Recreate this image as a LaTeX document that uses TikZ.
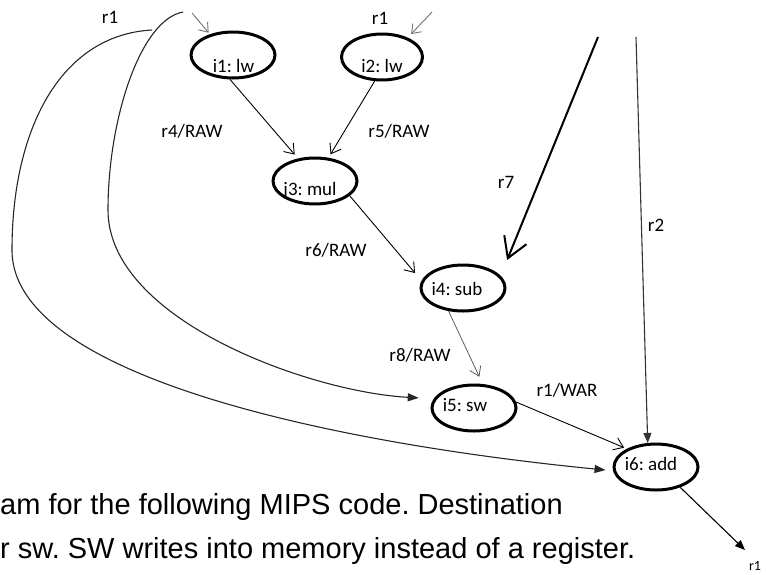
\documentclass[tikz,border=0pt]{standalone}
\usepackage{fontspec}
\newfontfamily\lblfont{Carlito}
\newfontfamily\captfont{Liberation Sans}
\usetikzlibrary{arrows.meta,shapes.geometric}
\frenchspacing

\begin{document}
\begin{tikzpicture}[x=1pt,y=-1pt,
  op/.style={draw, ellipse, line width=3pt, minimum width=84pt, minimum height=46pt, inner sep=0pt},
  opname/.style={font=\lblfont\fontsize{19}{19}\selectfont, anchor=base, inner sep=0pt},
  reglbl/.style={font=\lblfont\fontsize{19}{19}\selectfont, inner sep=0pt},
  dep/.style={line width=0.9pt, -{Straight Barb[length=9pt,width=13pt,line width=0.9pt]}},
  lightdep/.style={line width=0.7pt, black!70, -{Straight Barb[length=9pt,width=12pt,line width=0.7pt]}},
  grayin/.style={line width=0.9pt, black!55, -{Straight Barb[length=8pt,width=12pt,line width=0.9pt]}},
  bigdep/.style={line width=2pt, -{Straight Barb[length=20pt,width=24pt,line width=2pt]}},
  solidin/.style={line width=1.1pt, black!80, -{Triangle[length=10pt,width=8pt]}},
  curved/.style={line width=1.1pt, black!85, -{Triangle[length=11pt,width=8pt]}}
]
\useasboundingbox (0,0) rectangle (766,574);

% operation nodes
\node[op] (i1) at (233,55) {};
\node[op, minimum width=81pt] (i2) at (382,57) {};
\node[op] (j3) at (315,181) {};
\node[op] (i4) at (463,288) {};
\node[op] (i5) at (474,408) {};
\node[op] (i6) at (656,467) {};

\node[opname] (t1) at (233.5,72) {i1: lw};
\node[opname] (t2) at (382,72.5) {i2: lw};
\node[opname] (t3) at (310,195) {j3: mul};
\node[opname] (t4) at (457,295) {i4: sub};
\node[opname] (t5) at (465,411.5) {i5: sw};
\node[opname] (t6) at (651,470) {i6: add};

% free ends of incoming / outgoing registers
\coordinate (inA) at (183,12);
\coordinate (inB) at (152,30);
\coordinate (in1) at (192,13);
\coordinate (in2) at (432,12);
\coordinate (r7src) at (598,37);
\coordinate (r2src) at (636,37);
\coordinate (out) at (745,550);

% register inputs from above
\draw[grayin, shorten >=2pt] (in1) -- (i1.138);
\draw[grayin, shorten >=5pt] (in2) -- (i2.37);
\draw[bigdep, shorten >=17pt] (r7src) -- (i4.18);
\draw[solidin] (r2src) -- (i6.109);

% r1 read by i5 and i6
\draw[curved, shorten >=15pt] (inA) .. controls (140,20) and (108,120) .. (108,210)
  .. controls (108,320) and (310,392) .. (i5.167);
\draw[curved, shorten >=7.5pt] (inB) .. controls (60,35) and (12,130) .. (12,250)
  .. controls (12,380) and (350,445) .. (i6.185);

% dependences between operations
\draw[dep, shorten >=5pt] (i1.-97) -- (j3.127);
\draw[dep, shorten >=4pt] (i2.-107) -- (j3.60);
\draw[dep, shorten >=10pt] (j3.-23) -- (i4.170);
\draw[lightdep, shorten >=8pt] (i4.-122) -- (i5.70);
\draw[dep, shorten >=3pt] (i5.8) -- (i6.148);
\draw[solidin, black] (i6.-40) -- (out);

% register labels
\node[reglbl] (lr1a) at (110,17) {r1};
\node[reglbl] (lr1b) at (380,18) {r1};
\node[reglbl] (lr4) at (192,131) {r4/RAW};
\node[reglbl] (lr5) at (399,131) {r5/RAW};
\node[reglbl] (lr6) at (336,250) {r6/RAW};
\node[reglbl] (lr7) at (506,182) {r7};
\node[reglbl] (lr2) at (656,225) {r2};
\node[reglbl] (lr8) at (420,355) {r8/RAW};
\node[reglbl] (lrw) at (567,390) {r1/WAR};
\node[font=\lblfont\fontsize{14}{14}\selectfont, inner sep=0pt] (lrout) at (755,565.5) {r1};

% caption lines
\node[anchor=base west, inner sep=0pt, font=\captfont\fontsize{29}{29}\selectfont] (cap1) at (0,514) {am for the following MIPS code. Destination};
\node[anchor=base west, inner sep=0pt, font=\captfont\fontsize{29}{29}\selectfont] (cap2) at (0,558) {r sw. SW writes into memory instead of a register.};
\end{tikzpicture}
\end{document}
